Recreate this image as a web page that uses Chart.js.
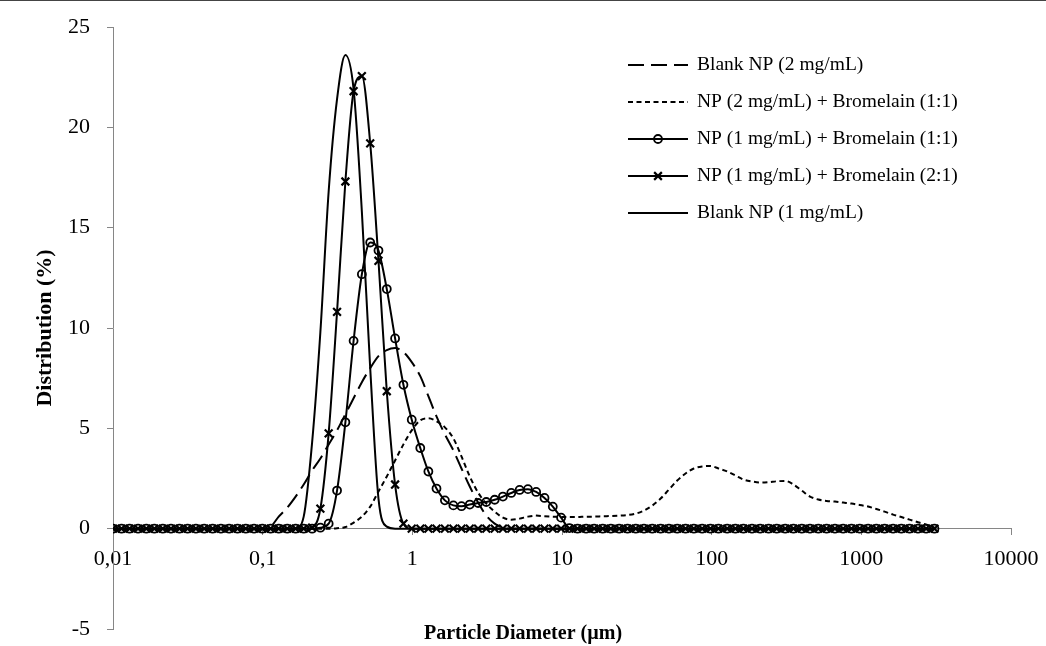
<!DOCTYPE html>
<html>
<head>
<meta charset="utf-8">
<script src="https://cdn.jsdelivr.net/npm/chart.js@4.4.1/dist/chart.umd.min.js"></script>
<style>
  body { margin: 0; background: #fff; }
  .wrap { position: relative; width: 1046px; height: 646px; }
  .topline { position: absolute; left: 0; top: 0; width: 1046px; height: 1px; background: #444; }
</style>
</head>
<body>
<div class="wrap">
  <canvas class="graphic" width="1046" height="646"></canvas>
  <div class="topline"></div>
</div>
<script>
// size classes (µm)
const sizes = [
  0.01, 0.0114, 0.0129, 0.0147, 0.0167, 0.0189, 0.0215, 0.0244, 0.0278, 0.0315,
  0.0358, 0.0407, 0.0463, 0.0526, 0.0597, 0.0679, 0.0771, 0.0876, 0.0995, 0.113,
  0.128, 0.146, 0.166, 0.188, 0.214, 0.243, 0.276, 0.314, 0.357, 0.405,
  0.46, 0.523, 0.594, 0.675, 0.767, 0.872, 0.991, 1.13, 1.28, 1.45,
  1.65, 1.88, 2.13, 2.42, 2.75, 3.12, 3.55, 4.03, 4.58, 5.21,
  5.92, 6.72, 7.64, 8.68, 9.86, 11.2, 12.7, 14.5, 16.4, 18.7,
  21.2, 24.1, 27.4, 31.1, 35.3, 40.1, 45.6, 51.8, 58.9, 66.9,
  76, 86.4, 98.1, 111, 127, 144, 163, 186, 211, 240,
  272, 310, 352, 400, 454, 516, 586, 666, 756, 859,
  976, 1110, 1260, 1430, 1630, 1850, 2100, 2390, 2710, 3080
]

// Blank NP (2 mg/mL)
const blank2 = [
  0, 0, 0, 0, 0, 0, 0, 0, 0, 0,
  0, 0, 0, 0, 0, 0, 0, 0, 0, 0.1,
  0.6, 1.05, 1.6, 2.2, 2.9, 3.5, 4.2, 4.9, 5.7, 6.5,
  7.3, 8.0, 8.6, 8.9, 9.0, 8.8, 8.3, 7.6, 6.6, 5.6,
  4.7, 3.9, 3.0, 2.1, 1.3, 0.65, 0.25, 0.05, 0, 0,
  0, 0, 0, 0, 0, 0, 0, 0, 0, 0,
  0, 0, 0, 0, 0, 0, 0, 0, 0, 0,
  0, 0, 0, 0, 0, 0, 0, 0, 0, 0,
  0, 0, 0, 0, 0, 0, 0, 0, 0, 0,
  0, 0, 0, 0, 0, 0, 0, 0, 0, 0
]

// NP (2 mg/mL) + Bromelain (1:1)
const brom2 = [
  0, 0, 0, 0, 0, 0, 0, 0, 0, 0,
  0, 0, 0, 0, 0, 0, 0, 0, 0, 0,
  0, 0, 0, 0, 0, 0, 0, 0.02, 0.08, 0.3,
  0.6, 1.1, 1.85, 2.6, 3.4, 4.2, 4.9, 5.4, 5.5, 5.35,
  5.05, 4.5, 3.6, 2.6, 1.8, 1.25, 0.85, 0.55, 0.45, 0.5,
  0.6, 0.65, 0.62, 0.6, 0.58, 0.58, 0.58, 0.6, 0.6, 0.62,
  0.63, 0.65, 0.68, 0.75, 0.9, 1.15, 1.5, 1.95, 2.4, 2.75,
  3.0, 3.1, 3.12, 3.0, 2.85, 2.65, 2.45, 2.35, 2.3, 2.32,
  2.36, 2.38, 2.2, 1.9, 1.6, 1.45, 1.38, 1.35, 1.3, 1.25,
  1.18, 1.1, 0.98, 0.85, 0.7, 0.58, 0.45, 0.32, 0.2, 0.05
]

// NP (1 mg/mL) + Bromelain (1:1)
const brom11 = [
  0, 0, 0, 0, 0, 0, 0, 0, 0, 0,
  0, 0, 0, 0, 0, 0, 0, 0, 0, 0,
  0, 0, 0, 0, 0, 0.05, 0.25, 1.9, 5.3, 9.36,
  12.68, 14.26, 13.86, 11.94, 9.48, 7.17, 5.43, 4.02, 2.85, 2.0,
  1.41, 1.16, 1.12, 1.2, 1.28, 1.33, 1.44, 1.6, 1.78, 1.93,
  1.97, 1.83, 1.53, 1.1, 0.55, 0.03, 0, 0, 0, 0,
  0, 0, 0, 0, 0, 0, 0, 0, 0, 0,
  0, 0, 0, 0, 0, 0, 0, 0, 0, 0,
  0, 0, 0, 0, 0, 0, 0, 0, 0, 0,
  0, 0, 0, 0, 0, 0, 0, 0, 0, 0
]

// NP (1 mg/mL) + Bromelain (2:1)
const brom21 = [
  0, 0, 0, 0, 0, 0, 0, 0, 0, 0,
  0, 0, 0, 0, 0, 0, 0, 0, 0, 0,
  0, 0, 0, 0, 0.05, 1.0, 4.75, 10.8, 17.3, 21.8,
  22.55, 19.2, 13.35, 6.85, 2.2, 0.25, 0, 0, 0, 0,
  0, 0, 0, 0, 0, 0, 0, 0, 0, 0,
  0, 0, 0, 0, 0, 0, 0, 0, 0, 0,
  0, 0, 0, 0, 0, 0, 0, 0, 0, 0,
  0, 0, 0, 0, 0, 0, 0, 0, 0, 0,
  0, 0, 0, 0, 0, 0, 0, 0, 0, 0,
  0, 0, 0, 0, 0, 0, 0, 0, 0, 0
]

// Blank NP (1 mg/mL)
const blank1 = [
  0, 0, 0, 0, 0, 0, 0, 0, 0, 0,
  0, 0, 0, 0, 0, 0, 0, 0, 0, 0,
  0, 0, 0, 0.6, 4.3, 9.8, 16.8, 21.4, 23.6, 21.9,
  15.8, 8.0, 1.5, 0.1, 0, 0, 0, 0, 0, 0,
  0, 0, 0, 0, 0, 0, 0, 0, 0, 0,
  0, 0, 0, 0, 0, 0, 0, 0, 0, 0,
  0, 0, 0, 0, 0, 0, 0, 0, 0, 0,
  0, 0, 0, 0, 0, 0, 0, 0, 0, 0,
  0, 0, 0, 0, 0, 0, 0, 0, 0, 0,
  0, 0, 0, 0, 0, 0, 0, 0, 0, 0
]

const seriesNames = [
  "Blank NP (2 mg/mL)",
  "NP (2 mg/mL) + Bromelain (1:1)",
  "NP (1 mg/mL) + Bromelain (1:1)",
  "NP (1 mg/mL) + Bromelain (2:1)",
  "Blank NP (1 mg/mL)"
]
const xTickValues = [0.01, 0.1, 1, 10, 100, 1000, 10000]
const xTickLabels = ["0,01", "0,1", "1", "10", "100", "1000", "10000"]
const xTitle = "Particle Diameter (µm)"
const yTitle = "Distribution (%)"

const serif = "'Liberation Serif', 'Times New Roman', serif"
Chart.defaults.font.family = serif
Chart.defaults.color = "#000"

const axisGray = "#868686"

// legend drawn at the top right like the Excel one, plus x title under the plot
const sideLegend = {
  id: "sideLegend",
  afterDraw(chart) {
    const ctx = chart.ctx
    ctx.save()
    ctx.font = "19.5px " + serif
    ctx.textBaseline = "middle"
    ctx.textAlign = "left"
    ctx.fillStyle = "#000"
    chart.data.datasets.forEach((ds, i) => {
      const y = 65 + i * 37
      ctx.strokeStyle = "#000"
      ctx.lineWidth = ds.borderWidth
      ctx.setLineDash(ds.borderDash || [])
      ctx.beginPath()
      ctx.moveTo(628, y)
      ctx.lineTo(688, y)
      ctx.stroke()
      ctx.setLineDash([])
      if (ds.pointRadius > 0) {
        const r = ds.pointRadius
        ctx.lineWidth = ds.pointBorderWidth
        ctx.beginPath()
        if (ds.pointStyle === "circle") {
          ctx.arc(658, y, r, 0, Math.PI * 2)
        } else {
          const d = r * 0.7
          ctx.moveTo(658 - d, y - d); ctx.lineTo(658 + d, y + d)
          ctx.moveTo(658 - d, y + d); ctx.lineTo(658 + d, y - d)
        }
        ctx.stroke()
      }
      ctx.fillText(ds.label, 697, y)
    })
    ctx.font = "bold 20px " + serif
    ctx.textAlign = "center"
    ctx.fillText(xTitle, chart.width / 2, 634)
    ctx.restore()
  }
}

const lineDefaults = {
  borderColor: "#000",
  backgroundColor: "transparent",
  borderWidth: 2,
  cubicInterpolationMode: "monotone",
  pointRadius: 0,
  pointBorderColor: "#000",
  pointBackgroundColor: "transparent",
  pointBorderWidth: 1.8
}

const data = {
  labels: sizes,
  datasets: [
    { ...lineDefaults, label: seriesNames[0], data: blank2, borderDash: [16, 7] },
    { ...lineDefaults, label: seriesNames[1], data: brom2, borderDash: [5, 3.5] },
    { ...lineDefaults, label: seriesNames[2], data: brom11, pointStyle: "circle", pointRadius: 4 },
    { ...lineDefaults, label: seriesNames[3], data: brom21, pointStyle: "crossRot", pointRadius: 5.5, pointBorderWidth: 2.2 },
    { ...lineDefaults, label: seriesNames[4], data: blank1 }
  ]
}

const config = {
  type: "line",
  data: data,
  options: {
    responsive: false,
    animation: false,
    devicePixelRatio: 1,
    layout: { padding: { top: 27, right: 35, bottom: 17, left: 0 } },
    plugins: {
      legend: { display: false },
      tooltip: { enabled: false }
    },
    scales: {
      x: {
        type: "logarithmic",
        min: 0.01,
        max: 10000,
        position: { y: 0 },
        afterBuildTicks: (axis) => {
          axis.ticks = xTickValues.map(v => ({ value: v }))
        },
        afterFit: (axis) => {
          axis.paddingLeft = 0
          axis.paddingRight = 0
        },
        grid: { drawOnChartArea: false, drawTicks: true, tickLength: 6, color: axisGray },
        border: { color: axisGray, width: 1 },
        ticks: {
          autoSkip: false,
          maxRotation: 0,
          padding: 11,
          font: { size: 22 },
          color: "#000",
          callback: (v, i) => xTickLabels[i]
        }
      },
      y: {
        min: -5,
        max: 25,
        afterFit: (axis) => {
          axis.width = 113
          axis.paddingTop = 0
          axis.paddingBottom = 0
        },
        grid: { drawOnChartArea: false, drawTicks: true, tickLength: 6, color: axisGray },
        border: { color: axisGray, width: 1 },
        ticks: { stepSize: 5, padding: 17, font: { size: 22 }, color: "#000" },
        title: {
          display: true,
          text: yTitle,
          color: "#000",
          font: { size: 22, weight: "bold" },
          padding: { top: 32, bottom: 0 }
        }
      }
    }
  },
  plugins: [sideLegend]
}

const graphRef = document.querySelector(".graphic")
new Chart(graphRef, config)
</script>
</body>
</html>
